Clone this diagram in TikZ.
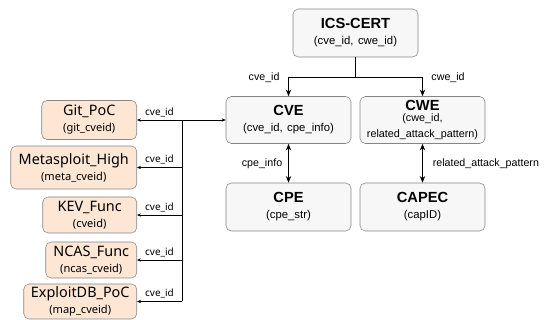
\documentclass[tikz,border=0pt]{standalone}
\usepackage{fontspec}
\setmainfont{Liberation Sans}
\newfontfamily\srcfont{Noto Sans}
\usepackage{tikz}
\usetikzlibrary{
  positioning,
  calc,
  arrows.meta
}
\definecolor{srcfill}{HTML}{FDE6D4}
\definecolor{dbfill}{HTML}{F7F7F7}
\definecolor{boxline}{HTML}{858585}

\tikzset{
  dbbox/.style={draw=boxline, fill=dbfill, rounded corners=4pt, align=center,
    minimum width=93.75pt, text width=92pt, inner sep=0pt},
  srcbox/.style={draw=boxline, fill=srcfill, rounded corners=4pt, align=center,
    anchor=east, inner sep=0pt, font=\srcfont},
  link/.style={-{Stealth[length=5pt,width=4pt]}, line width=0.8pt},
  both/.style={{Stealth[length=5pt,width=4pt]}-{Stealth[length=5pt,width=4pt]}, line width=0.8pt},
  feed/.style={-{Stealth[length=3pt,width=2.5pt]}, line width=0.5pt},
  lbl/.style={font=\fontsize{8}{9}\selectfont},
  srclbl/.style={font=\srcfont\fontsize{7.5}{8}\selectfont}
}

\newcommand{\dbhead}{\fontsize{11}{13}\selectfont\bfseries}
\newcommand{\dbsub}{\fontsize{8.5}{9.5}\selectfont\mdseries}
\newcommand{\srchead}{\fontsize{10.8}{12.5}\selectfont\bfseries}
\newcommand{\srcsub}{\fontsize{8.3}{10}\selectfont\mdseries}

\begin{document}
\begin{tikzpicture}[x=0.75pt, y=-0.75pt]
		\useasboundingbox (0,0) rectangle (547,320);

		% databases
		\node[dbbox, minimum height=36pt] (ics) at (355.5,33) {\dbhead ICS-CERT\\ \dbsub (cve\_id, cwe\_id)};
		\node[dbbox, minimum height=35.25pt] (cve) at (288.5,120) {\dbhead CVE\\ \dbsub (cve\_id, cpe\_info)};
		\node[dbbox, minimum height=35.25pt] (cwe) at (422.5,120) {\dbhead CWE\\[-1pt] \dbsub\fontsize{8.1}{9.5}\selectfont (cwe\_id,\\ related\_attack\_pattern)};
		\node[dbbox, minimum height=36pt] (cpe) at (288.5,207) {\dbhead CPE\\ \dbsub (cpe\_str)};
		\node[dbbox, minimum height=36pt] (capec) at (422.5,207) {\dbhead CAPEC\\ \dbsub (capID)};

		% exploit sources
		\node[srcbox, minimum width=71.25pt, minimum height=29.25pt] (git) at (137,120) {\srchead Git\_PoC\\ \srcsub (git\_cveid)};
		\node[srcbox, minimum width=94.5pt, minimum height=32.25pt] (meta) at (137,167.5) {\srchead Metasploit\_High\\ \srcsub (meta\_cveid)};
		\node[srcbox, minimum width=70.5pt, minimum height=27pt] (kev) at (137,215) {\srchead KEV\_Func\\ \srcsub (cveid)};
		\node[srcbox, minimum width=68.25pt, minimum height=27pt] (ncas) at (137,260) {\srchead NCAS\_Func\\ \srcsub (ncas\_cveid)};
		\node[srcbox, minimum width=84.75pt, minimum height=26.25pt] (edb) at (137,301.5) {\srchead ExploitDB\_PoC\\ \srcsub (map\_cveid)};

		% ICS-CERT links
		\coordinate (split) at ($(ics.south)+(0,20)$);
		\draw[line width=0.8pt] (ics.south) -- (split);
		\draw[link] (split) -| (cve.north) node[lbl, pos=0.5, left=3pt] {cve\_id};
		\draw[link] (split) -| (cwe.north) node[lbl, pos=0.5, right=3pt] {cwe\_id};

		% lookups
		\draw[both] (cve.south) -- (cpe.north) node[lbl, midway, left=1pt] {cpe\_info};
		\draw[both] (cwe.south) -- (capec.north) node[lbl, midway, right=4pt] {related\_attack\_pattern};

		% bus to sources
		\coordinate (bus) at (182,120);
		\draw[line width=0.5pt] (bus) -- (bus |- edb.east);
		\draw[feed] (bus) -- (cve.west);
		\foreach \src in {git, meta, kev, ncas, edb}
			\draw[feed] (bus |- \src.east) -- (\src.east) node[srclbl, midway, above=-1pt] {cve\_id};
	\end{tikzpicture}
\end{document}
